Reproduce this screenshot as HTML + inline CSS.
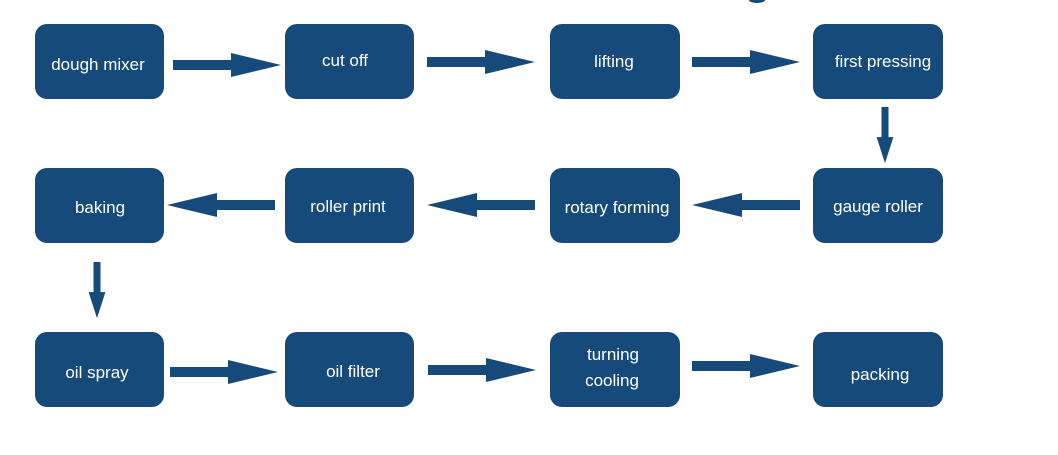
<!DOCTYPE html>
<html><head><style>body{margin:0;background:#fff}svg{display:block}</style></head><body>
<svg width="1058" height="455" xmlns="http://www.w3.org/2000/svg" font-family="'Comic Sans MS','Liberation Sans',sans-serif" font-size="17" fill="#fff">
<defs>
<g id="ar"><polygon points="0,-5 58,-5 58,-12 108,0 58,12 58,5 0,5" fill="#154a7a"/></g>
</defs>
<ellipse cx="757" cy="0" rx="8" ry="3" fill="#154a7a"/>
<g fill="#154a7a">
<rect x="35" y="24" width="129" height="75" rx="12"/>
<rect x="285" y="24" width="129" height="75" rx="12"/>
<rect x="550" y="24" width="130" height="75" rx="12"/>
<rect x="813" y="24" width="130" height="75" rx="12"/>
<rect x="35" y="168" width="129" height="75" rx="12"/>
<rect x="285" y="168" width="129" height="75" rx="12"/>
<rect x="550" y="168" width="130" height="75" rx="12"/>
<rect x="813" y="168" width="130" height="75" rx="12"/>
<rect x="35" y="332" width="129" height="75" rx="12"/>
<rect x="285" y="332" width="129" height="75" rx="12"/>
<rect x="550" y="332" width="130" height="75" rx="12"/>
<rect x="813" y="332" width="130" height="75" rx="12"/>
</g>
<use href="#ar" transform="translate(173,65)"/>
<use href="#ar" transform="translate(427,62)"/>
<use href="#ar" transform="translate(692,62)"/>
<use href="#ar" transform="translate(275,205) scale(-1,1)"/>
<use href="#ar" transform="translate(535,205) scale(-1,1)"/>
<use href="#ar" transform="translate(800,205) scale(-1,1)"/>
<use href="#ar" transform="translate(885,107) rotate(90) scale(0.52,0.7)"/>
<use href="#ar" transform="translate(97,262) rotate(90) scale(0.52,0.7)"/>
<use href="#ar" transform="translate(170,372)"/>
<use href="#ar" transform="translate(428,370)"/>
<use href="#ar" transform="translate(692,366)"/>
<g text-anchor="middle">
<text x="98" y="70">dough mixer</text>
<text x="345" y="66">cut off</text>
<text x="614" y="67">lifting</text>
<text x="883" y="67">first pressing</text>
<text x="100" y="213">baking</text>
<text x="348" y="212">roller print</text>
<text x="617" y="213">rotary forming</text>
<text x="878" y="212">gauge roller</text>
<text x="97" y="378">oil spray</text>
<text x="353" y="377">oil filter</text>
<text x="613" y="360">turning</text>
<text x="612" y="386">cooling</text>
<text x="880" y="380">packing</text>
</g>
</svg>
</body></html>
